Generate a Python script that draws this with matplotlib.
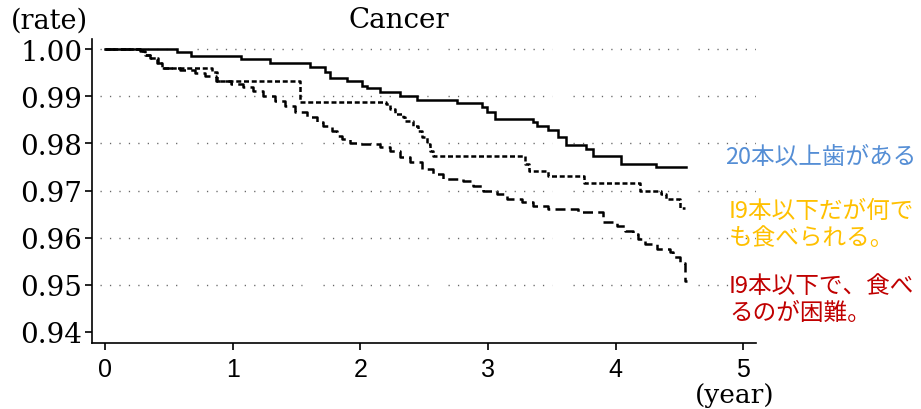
import matplotlib
matplotlib.use("Agg")
import matplotlib.pyplot as plt

# ---------------- data ----------------
title = "Cancer"
ylabel = "(rate)"
xlabel = "(year)"
x_ticks = [0, 1, 2, 3, 4, 5]
y_ticks = [0.94, 0.95, 0.96, 0.97, 0.98, 0.99, 1.00]
y_tick_labels = ["0.94", "0.95", "0.96", "0.97", "0.98", "0.99", "1.00"]
grid_levels = [0.95, 0.96, 0.97, 0.98, 0.99, 1.00]

series_names = ["20本以上歯がある",
                "I9本以下だが何で\nも食べられる。",
                "I9本以下で、食べ\nるのが困難。"]

# 20本以上歯がある (solid)
t_20 = [0, 0.561, 0.671, 1.063, 1.292, 1.605, 1.723, 1.762, 1.899, 2.011, 2.052,
        2.153, 2.310, 2.441, 2.760, 2.952, 2.991, 3.054, 3.354, 3.383, 3.471,
        3.550, 3.615, 3.772, 3.824, 4.046, 4.315, 4.555]
s_20 = [1.0, 0.9994, 0.9986, 0.9979, 0.9972, 0.9963, 0.9952, 0.9940, 0.9932, 0.9923,
        0.9917, 0.9910, 0.9901, 0.9893, 0.9885, 0.9877, 0.9867, 0.9852, 0.9845,
        0.9838, 0.9829, 0.9813, 0.9797, 0.9788, 0.9774, 0.9756, 0.9749, 0.9749]

# 19本以下だが何でも食べられる (short dash)
t_eat = [0, 0.274, 0.313, 0.352, 0.407, 0.446, 0.838, 0.877, 1.527, 2.200, 2.232,
         2.271, 2.334, 2.349, 2.412, 2.451, 2.482, 2.521, 2.545, 2.568, 3.289,
         3.320, 3.469, 3.751, 4.190, 4.354, 4.393, 4.503, 4.542]
s_eat = [1.0, 0.9996, 0.9989, 0.9982, 0.9971, 0.9960, 0.9952, 0.9933, 0.9889,
         0.9884, 0.9873, 0.9863, 0.9856, 0.9848, 0.9838, 0.9827, 0.9813, 0.9799,
         0.9785, 0.9774, 0.9756, 0.9742, 0.9731, 0.9715, 0.9700, 0.9693, 0.9683,
         0.9663, 0.9663]

# 19本以下で、食べるのが困難 (long dash)
t_hard = [0, 0.274, 0.313, 0.352, 0.415, 0.446, 0.587, 0.705, 0.783, 0.869, 0.987,
          1.081, 1.159, 1.237, 1.331, 1.410, 1.488, 1.582, 1.660, 1.707, 1.777,
          1.817, 1.856, 1.919, 1.973, 2.153, 2.232, 2.310, 2.388, 2.482, 2.568,
          2.647, 2.803, 2.882, 2.960, 3.070, 3.148, 3.265, 3.352, 3.469, 3.704,
          3.900, 4.009, 4.072, 4.135, 4.174, 4.229, 4.323, 4.424, 4.448, 4.503,
          4.542, 4.556]
s_hard = [1.0, 0.9996, 0.9989, 0.9982, 0.9971, 0.9961, 0.9956, 0.9950, 0.9943,
          0.9933, 0.9926, 0.9919, 0.9912, 0.9901, 0.9891, 0.9880, 0.9866, 0.9856,
          0.9845, 0.9838, 0.9827, 0.9816, 0.9809, 0.9802, 0.9799, 0.9792, 0.9785,
          0.9771, 0.9760, 0.9746, 0.9735, 0.9725, 0.9720, 0.9710, 0.9700, 0.9693,
          0.9682, 0.9675, 0.9667, 0.9661, 0.9654, 0.9633, 0.9625, 0.9615, 0.9608,
          0.9597, 0.9586, 0.9576, 0.9569, 0.9558, 0.9546, 0.9508, 0.9508]

# ---------------- style ----------------
label_colors = ["#558ED5", "#FFC000", "#C00000"]
grid_segments = [(-0.04, 0.564), (0.72, 1.543), (1.707, 2.529),
                 (2.686, 3.50), (3.665, 4.487), (4.644, 5.10)]

plt.rcParams['font.family'] = ['DejaVu Serif']

fig = plt.figure(figsize=(9.21, 4.10), dpi=100)
ax = fig.add_axes([92/921, 1 - 344/410, (756 - 92)/921, (344 - 40)/410])
ax.set_xlim(-0.102, 5.10)
ax.set_ylim(0.9376, 1.0022)

# dotted grid segments
for g in grid_levels:
    for (a, b) in grid_segments:
        ax.plot([a, b], [g, g], color="#666666", lw=1.0,
                dashes=(0.9, 5.9), zorder=1)

lw = 1.8
ax.step(t_20, s_20, where="post", color="black", lw=lw, zorder=3,
        solid_joinstyle="miter")
ax.step(t_eat, s_eat, where="post", color="black", lw=lw, zorder=3,
        dashes=(2.0, 1.1))
ax.step(t_hard, s_hard, where="post", color="black", lw=lw, zorder=3,
        dashes=(4.0, 2.1))

for side in ["top", "right"]:
    ax.spines[side].set_visible(False)
for side in ["left", "bottom"]:
    ax.spines[side].set_linewidth(1.2)

ax.set_yticks(y_ticks)
ax.set_yticklabels(y_tick_labels, family="DejaVu Serif", fontsize=20)
ax.set_xticks(x_ticks)
ax.set_xticklabels([str(v) for v in x_ticks], family="Liberation Sans",
                   fontsize=18)
ax.tick_params(axis="y", length=5, width=1.2, pad=2)
ax.tick_params(axis="x", length=5, width=1.2, pad=5)

fig.text(399/921, 1 - 20/410, title, ha="center", va="center",
         family="DejaVu Serif", fontsize=20)
fig.text(11/921, 1 - 21/410, ylabel, ha="left", va="center",
         family="DejaVu Serif", fontsize=19.5)
fig.text(735/921, 1 - 396/410, xlabel, ha="center", va="center",
         family="DejaVu Serif", fontsize=19)

jp = ["Noto Sans CJK JP", "DejaVu Sans"]
fig.text(725/921, 1 - 158/410, series_names[0], ha="left", va="center",
         family=jp, fontsize=17, color=label_colors[0])
fig.text(729/921, 1 - 225/410, series_names[1], ha="left", va="center",
         family=jp, fontsize=17, color=label_colors[1], linespacing=1.2)
fig.text(729/921, 1 - 300/410, series_names[2], ha="left", va="center",
         family=jp, fontsize=17, color=label_colors[2], linespacing=1.2)

fig.savefig("out.png", dpi=100)
